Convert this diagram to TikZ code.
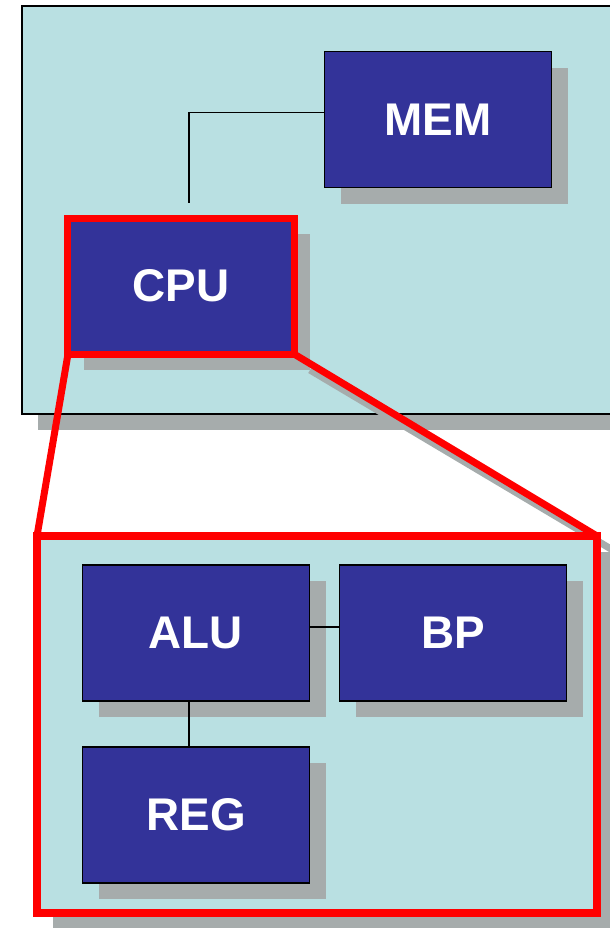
\documentclass[tikz,border=0pt]{standalone}
\usepackage{fontspec}
\setmainfont{Liberation Sans}
\usetikzlibrary{shadows}
\definecolor{boxblue}{HTML}{333399}
\definecolor{paneback}{HTML}{B9E0E2}
\definecolor{shadowgray}{HTML}{A6ACAC}
\tikzset{
  boxshadow/.style={drop shadow={shadow xshift=16bp, shadow yshift=-16bp,
      fill=shadowgray, opacity=1}},
  block/.style={draw=black, line width=1.2bp, fill=boxblue, text=white,
      font=\bfseries\fontsize{46}{50}\selectfont, inner sep=0pt,
      minimum width=227bp, minimum height=136bp, boxshadow},
  panel/.style={fill=paneback, inner sep=0pt, outer sep=0pt, boxshadow},
  zoomline/.style={red, line width=7bp},
  wire/.style={black, line width=1.2bp}
}
\begin{document}
\begin{tikzpicture}[x=1bp, y=-1bp]
      \clip (0,0) rectangle (610,928);
      % Systeme
      \node[panel, draw=black, line width=1.5bp,
            minimum width=598bp, minimum height=408bp] (sys) at (321,210) {};
      \node[block] (mem) at (438,119.5) {MEM};
      \node[block, draw=red, line width=7bp, outer sep=0pt,
            minimum width=226bp] (cpu) at (181,286) {CPU};
      \coordinate (cpuTop) at (189,203);
      \draw[wire] ([yshift=7bp]mem.west) -| (cpuTop);
      % Zoom sur le CPU
      \draw[zoomline, draw=shadowgray]
            ([shift={(16bp,-16bp)}]cpu.south east) -- ([shift={(16bp,-16bp)}]600,536);
      \node[panel, draw=red, line width=8bp,
            minimum width=560bp, minimum height=377bp] (zoom) at (317,724.5) {};
      \draw[zoomline] (cpu.south west) -- (zoom.north west);
      \draw[zoomline] (cpu.south east) -- (zoom.north east);
      % Blocs internes
      \node[block] (alu) at (196,633) {ALU};
      \node[block] (bp) at (453,633) {BP};
      \node[block] (reg) at (196,815) {REG};
      \draw[wire] ([yshift=6bp]alu.east) -- ([yshift=6bp]bp.west);
      \draw[wire] ([xshift=-7bp]alu.south) -- ([xshift=-7bp]reg.north);
    \end{tikzpicture}
\end{document}
